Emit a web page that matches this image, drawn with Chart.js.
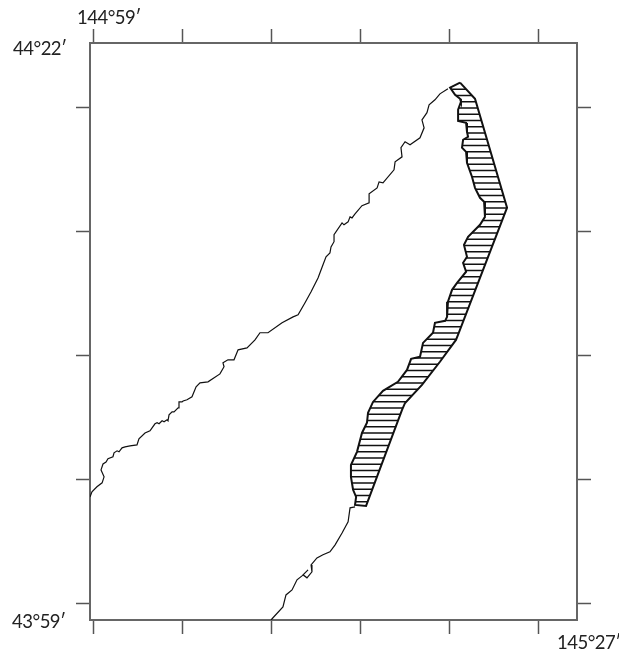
<!DOCTYPE html>
<html>
<head>
<meta charset="utf-8">
<script src="https://cdn.jsdelivr.net/npm/chart.js@4"></script>
<style>
html, body { margin: 0; background: #fff; }
canvas { display: block; }
</style>
</head>
<body>
<canvas id="myChart" width="619" height="655"></canvas>
<script>
// all positions in arc minutes: x east of 145 00', y north of 44 00'
const lonTicks = [0, 5, 10, 15, 20, 25]
const latTicks = [0, 5, 10, 15, 20]
const lonRange = [-0.17, 27.19]
const latRange = [-0.65, 22.61]

const westCoastX = [-0.17,-0.06,0.22,0.51,0.62,0.45,0.56,0.73,0.84,1.12,1.18,1.35,1.46,1.63,1.80,2.08,2.47,2.58,2.92,3.20,3.48,3.60,3.71,3.88,3.99,4.16,4.21,4.27,4.44,4.55,4.78,4.83,5.00,5.06,5.28,5.56,5.79,6.01,6.46,7.13,7.36,7.30,7.58,7.92,8.15,8.65,9.10,9.38,9.83,10.62,11.24,11.52,11.91,12.25,12.64,12.92,13.09,13.31,13.37,13.54,13.54,13.99,14.10,14.33,14.44,14.55,14.72,15.11,15.51,15.51,15.96,16.07,16.29,16.91,16.97,17.36,17.30,17.53,17.81,18.37,18.60,18.48,18.76,18.88,19.21,19.49,19.94]
const westCoastY = [4.31,4.52,4.72,4.88,5.12,5.40,5.64,5.72,5.85,5.93,6.09,6.17,6.13,6.29,6.33,6.37,6.41,6.65,6.89,6.98,7.26,7.30,7.26,7.38,7.34,7.42,7.38,7.62,7.74,7.74,7.90,8.14,8.14,8.18,8.23,8.35,8.75,8.91,8.95,9.27,9.56,9.72,9.84,9.84,10.24,10.32,10.64,10.93,10.93,11.33,11.57,11.65,12.14,12.58,13.14,13.67,13.99,14.15,14.39,14.60,14.88,15.36,15.28,15.40,15.60,15.56,15.72,16.05,16.17,16.53,16.77,17.01,16.97,17.50,17.82,18.02,18.39,18.63,18.51,18.79,19.19,19.51,19.80,20.12,20.32,20.56,20.77]

const southCoastX = [14.72,14.44,14.33,13.99,13.60,13.31,12.92,12.58,12.25,12.30,12.02,11.80,12.08,11.74,11.46,11.18,10.84,10.67,10.11,10.00]
const southCoastY = [3.91,3.87,3.31,2.86,2.38,2.10,1.98,1.85,1.57,1.29,1.05,1.17,1.37,1.13,0.97,0.56,0.36,-0.12,-0.56,-0.65]

const areaX = [20.62,20.06,20.34,20.62,20.67,20.51,20.51,20.96,21.01,21.07,20.79,20.73,20.96,21.01,21.29,21.46,21.74,21.97,22.02,21.74,21.07,20.84,21.01,20.79,20.96,20.45,20.17,19.94,19.89,19.78,19.21,19.10,18.54,18.37,17.87,17.64,17.13,16.29,15.73,15.45,15.39,15.11,14.83,14.49,14.49,14.61,14.78,14.72,15.34,17.36,17.53,18.48,19.49,20.39,20.51,23.26,21.46,20.62]
const areaY = [21.01,20.81,20.52,20.36,20.24,19.92,19.47,19.39,19.03,18.83,18.71,18.39,18.22,17.78,17.22,16.77,16.37,16.21,15.60,15.28,14.80,14.47,13.99,13.75,13.39,12.94,12.66,12.18,11.57,11.41,11.33,10.93,10.52,9.96,9.88,9.43,8.95,8.59,8.14,7.70,7.30,6.89,6.13,5.60,5.12,4.60,4.31,3.99,3.95,7.82,8.10,8.83,9.76,10.64,10.85,15.97,20.36,21.01]

const toPoints = (xs, ys) => xs.map((x, i) => ({x: x, y: ys[i]}))

// horizontal hatching, 4 lines every 25px
function hatch() {
    const tile = document.createElement('canvas')
    tile.width = 4
    tile.height = 25
    const c = tile.getContext('2d')
    c.fillStyle = '#111'
    for (var i = 0; i < 4; i++) {
        c.fillRect(0, i * 6.25 + 1, 4, 1.5)
    }
    return c.createPattern(tile, 'repeat')
}

const axisColor = '#666'

function axis(position, values, range) {
    return {
        type: 'linear',
        position: position,
        min: range[0],
        max: range[1],
        afterBuildTicks: (s) => { s.ticks = values.map(v => ({value: v})) },
        ticks: { display: false },
        border: { display: true, color: axisColor, width: 2 },
        grid: {
            drawOnChartArea: false,
            drawTicks: true,
            tickLength: 14,
            tickColor: '#555',
            tickWidth: 1.5
        }
    }
}

// corner labels of the frame
const cornerLabels = {
    id: 'cornerLabels',
    afterDraw(chart) {
        const c = chart.ctx
        const a = chart.chartArea
        c.save()
        c.font = '18.5px Lato'
        c.letterSpacing = '-0.5px'
        c.fillStyle = '#222'
        c.textBaseline = 'middle'
        c.textAlign = 'left'
        c.fillText('144°59′', a.left - 13, a.top - 25)
        c.fillText('44°22′', a.left - 77, a.top + 6)
        c.fillText('43°59′', a.left - 78, a.bottom + 2)
        c.fillText('145°27′', a.right - 20, a.bottom + 23)
        c.restore()
    }
}

new Chart(document.getElementById('myChart'), {
    type: 'scatter',
    data: {
        datasets: [
            {
                data: toPoints(westCoastX, westCoastY),
                showLine: true,
                borderColor: '#111',
                borderWidth: 1.2,
                pointRadius: 0
            },
            {
                data: toPoints(southCoastX, southCoastY),
                showLine: true,
                borderColor: '#111',
                borderWidth: 1.2,
                pointRadius: 0
            },
            {
                data: toPoints(areaX, areaY),
                showLine: true,
                fill: 'shape',
                backgroundColor: hatch(),
                borderColor: '#111',
                borderWidth: 2,
                pointRadius: 0
            }
        ]
    },
    plugins: [cornerLabels],
    options: {
        responsive: false,
        animation: false,
        layout: { padding: { left: 76, right: 28, top: 29, bottom: 21 } },
        plugins: {
            legend: false,
            title: { display: false },
            tooltip: { enabled: false }
        },
        scales: {
            x: axis('bottom', lonTicks, lonRange),
            xTop: axis('top', lonTicks, lonRange),
            y: axis('left', latTicks, latRange),
            yRight: axis('right', latTicks, latRange)
        }
    }
})
</script>
</body>
</html>
